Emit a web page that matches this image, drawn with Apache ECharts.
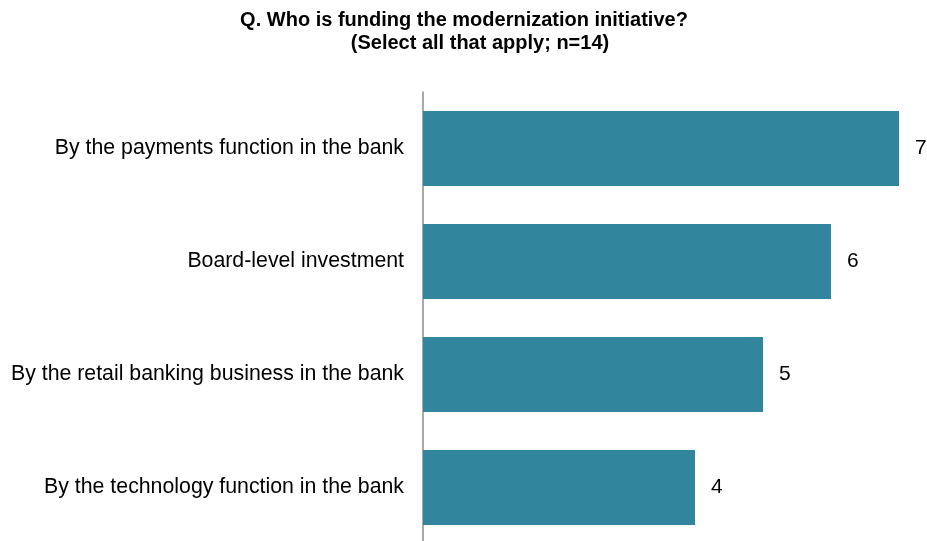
<!DOCTYPE html>
<html>
<head>
<meta charset="utf-8">
<script src="https://cdn.jsdelivr.net/npm/echarts@6/dist/echarts.min.js"></script>
<style>
  html, body { margin: 0; padding: 0; background: #ffffff; }
  #chart { width: 927px; height: 541px; }
</style>
</head>
<body>
<div id="chart"></div>
<script>
// Funding sources for the modernization initiative (multi-select, n=14)
const categories = [
  'By the payments function in the bank',
  'Board-level investment',
  'By the retail banking business in the bank',
  'By the technology function in the bank'
];
const counts = [7, 6, 5, 4];

const titleLine1 = 'Q. Who is funding the modernization initiative?';
const titleLine2 = '(Select all that apply; n=14)';

const chart = echarts.init(document.getElementById('chart'));
const font = '"Liberation Sans", Arial, sans-serif';

chart.setOption({
  animation: false,
  backgroundColor: '#ffffff',
  title: [
    { text: titleLine1, left: 464, top: 10, textAlign: 'center', padding: 0,
      textStyle: { fontFamily: font, fontSize: 20, fontWeight: 'bold', color: '#000' } },
    { text: titleLine2, left: 480, top: 33, textAlign: 'center', padding: 0,
      textStyle: { fontFamily: font, fontSize: 20, fontWeight: 'bold', color: '#000' } }
  ],
  grid: { left: 423, top: 92, width: 476, height: 452, containLabel: false, outerBoundsMode: 'none' },
  xAxis: {
    type: 'value', min: 0, max: 7,
    show: false
  },
  yAxis: {
    type: 'category',
    data: categories,
    inverse: true,
    axisLine: { show: true, lineStyle: { color: '#8c8c8c', width: 1.5 } },
    axisTick: { show: false },
    axisLabel: { fontFamily: font, fontSize: 21.3, color: '#000', margin: 19 }
  },
  series: [{
    type: 'bar',
    data: counts,
    barWidth: '66.4%',
    itemStyle: { color: '#31859c' },
    label: {
      show: true, position: 'right', distance: 16,
      fontFamily: font, fontSize: 21, color: '#000'
    }
  }]
});
</script>
</body>
</html>
